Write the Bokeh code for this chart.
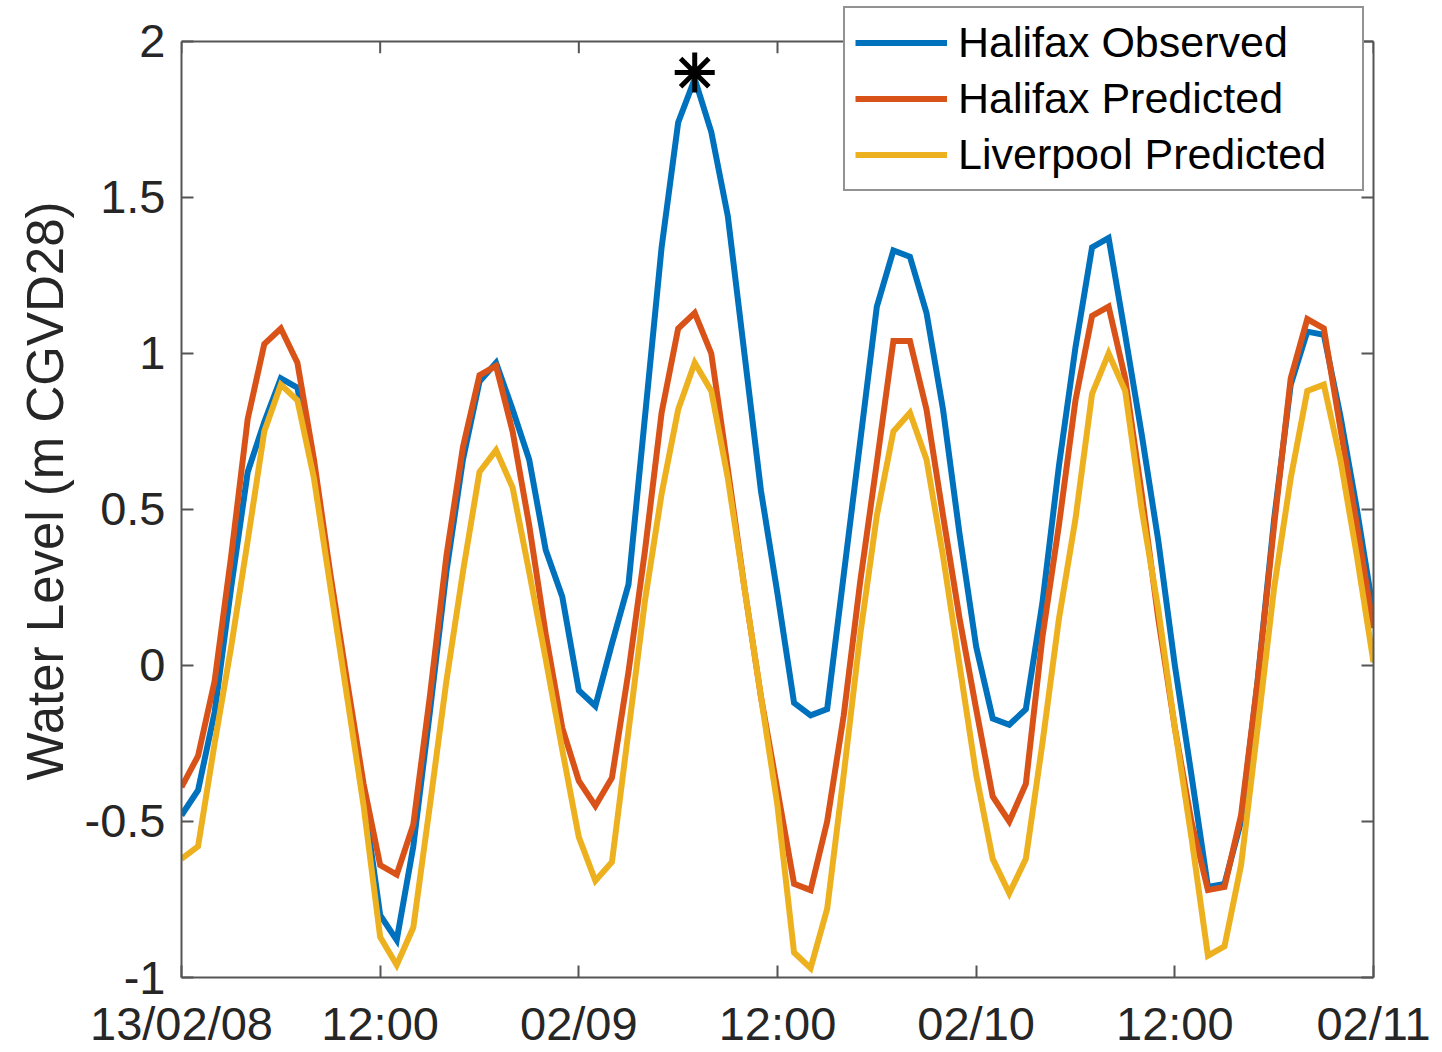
from bokeh.plotting import figure
from bokeh.models import LinearAxis, FixedTicker, Legend, LegendItem, Range1d, Span
from bokeh.embed import file_html
from bokeh.resources import INLINE

# hourly time steps from 13/02/08 00:00 to 02/11 00:00
hours = list(range(73))

halifax_observed = [
    -0.48, -0.40, -0.15, 0.25, 0.62, 0.78, 0.92, 0.89, 0.62, 0.27,
    -0.07, -0.42, -0.80, -0.88, -0.58, -0.15, 0.30, 0.66, 0.91, 0.97,
    0.82, 0.66, 0.37, 0.22, -0.08, -0.13, 0.07, 0.26, 0.80, 1.34,
    1.74, 1.88, 1.71, 1.44, 1.00, 0.56, 0.23, -0.12, -0.16, -0.14,
    0.29, 0.72, 1.15, 1.33, 1.31, 1.13, 0.82, 0.42, 0.06, -0.17,
    -0.19, -0.14, 0.20, 0.64, 1.02, 1.34, 1.37, 1.06, 0.74, 0.40,
    0.00, -0.35, -0.71, -0.70, -0.50, -0.05, 0.47, 0.90, 1.07, 1.06,
    0.80, 0.50, 0.17,
]

halifax_predicted = [
    -0.39, -0.29, -0.05, 0.35, 0.79, 1.03, 1.08, 0.97, 0.66, 0.29,
    -0.05, -0.38, -0.64, -0.67, -0.51, -0.10, 0.35, 0.70, 0.93, 0.96,
    0.75, 0.45, 0.10, -0.20, -0.37, -0.45, -0.36, -0.02, 0.37, 0.81,
    1.08, 1.13, 1.00, 0.63, 0.25, -0.10, -0.40, -0.70, -0.72, -0.50,
    -0.16, 0.27, 0.65, 1.04, 1.04, 0.82, 0.48, 0.15, -0.14, -0.42,
    -0.50, -0.38, 0.09, 0.45, 0.85, 1.12, 1.15, 0.92, 0.55, 0.15,
    -0.20, -0.50, -0.72, -0.71, -0.48, -0.05, 0.45, 0.92, 1.11, 1.08,
    0.76, 0.45, 0.12,
]

liverpool_predicted = [
    -0.62, -0.58, -0.25, 0.06, 0.40, 0.75, 0.90, 0.85, 0.60, 0.25,
    -0.10, -0.45, -0.87, -0.96, -0.84, -0.45, -0.05, 0.30, 0.62, 0.69,
    0.57, 0.30, 0.02, -0.27, -0.55, -0.69, -0.63, -0.21, 0.21, 0.55,
    0.82, 0.97, 0.88, 0.60, 0.25, -0.10, -0.45, -0.92, -0.97, -0.78,
    -0.35, 0.10, 0.48, 0.75, 0.81, 0.66, 0.35, 0.00, -0.35, -0.62,
    -0.73, -0.62, -0.25, 0.15, 0.47, 0.87, 1.00, 0.88, 0.50, 0.18,
    -0.20, -0.55, -0.93, -0.90, -0.64, -0.20, 0.25, 0.60, 0.88, 0.90,
    0.66, 0.35, 0.01,
]

peak_hour = [31]
peak_level = [1.90]

x_ticks = [0, 12, 24, 36, 48, 60, 72]
x_tick_labels = ["13/02/08", "12:00", "02/09", "12:00", "02/10", "12:00", "02/11"]
y_ticks = [-1, -0.5, 0, 0.5, 1, 1.5, 2]
y_tick_labels = ["-1", "-0.5", "0", "0.5", "1", "1.5", "2"]
y_min, y_max = -1, 2
x_min, x_max = 0, 72

series_names = ["Halifax Observed", "Halifax Predicted", "Liverpool Predicted"]
colors = ["#0072BD", "#D95319", "#EDB120"]

FONT = "Liberation Sans"
TXT = "#262626"
AX = "#555555"

# frame: x 181..1373, y 4..980 ; y=2 sits at 41px -> headroom above the box
FRAME_TOP = 4
PX_PER_UNIT = (980 - 41) / (y_max - y_min)
headroom = (41 - FRAME_TOP) / PX_PER_UNIT
tick_len = 12 / PX_PER_UNIT

p = figure(width=1442, height=1052, output_backend="svg", toolbar_location=None,
           x_range=Range1d(x_min, x_max), y_range=Range1d(y_min, y_max + headroom),
           min_border_left=181, min_border_right=69, min_border_top=FRAME_TOP,
           min_border_bottom=72, background_fill_color="white",
           border_fill_color="white", outline_line_color=None)
p.xgrid.visible = False
p.ygrid.visible = False
p.xaxis.visible = False
p.yaxis.visible = False

renderers = []
for vals, c in zip([halifax_observed, halifax_predicted, liverpool_predicted], colors):
    r = p.line(hours, vals, line_color=c, line_width=6, line_join="miter")
    renderers.append(r)

p.scatter(peak_hour, peak_level, marker="asterisk", size=40, line_color="black",
          line_width=5)

def style_axis(ax, show_labels):
    ax.axis_line_color = AX
    ax.axis_line_width = 2
    ax.major_tick_line_color = AX
    ax.major_tick_line_width = 2
    ax.major_tick_in = 12
    ax.major_tick_out = 0
    ax.minor_tick_line_color = None
    ax.major_label_text_font = FONT
    ax.major_label_text_color = TXT
    if not show_labels:
        ax.major_label_text_font_size = "1px"
        ax.major_label_text_alpha = 0
        ax.major_label_standoff = 0

bottom = LinearAxis(ticker=FixedTicker(ticks=x_ticks),
                    major_label_overrides={t: l for t, l in zip(x_ticks, x_tick_labels)})
style_axis(bottom, True)
bottom.major_label_text_font_size = "47px"
bottom.major_label_standoff = 19
p.add_layout(bottom, "below")

left = LinearAxis(ticker=FixedTicker(ticks=y_ticks), bounds=(y_min, y_max),
                  major_label_overrides={t: l for t, l in zip(y_ticks, y_tick_labels)})
style_axis(left, True)
left.major_label_text_font_size = "47px"
left.major_label_standoff = 16
left.axis_label = "Water Level (m CGVD28)"
left.axis_label_text_font = FONT
left.axis_label_text_font_size = "51px"
left.axis_label_text_font_style = "normal"
left.axis_label_text_color = TXT
left.axis_label_standoff = 8
p.add_layout(left, "left")

right = LinearAxis(ticker=FixedTicker(ticks=y_ticks), bounds=(y_min, y_max))
style_axis(right, False)
p.add_layout(right, "right")

# top edge of the axes box with inward ticks
p.add_layout(Span(location=y_max, dimension="width", line_color=AX, line_width=2))
p.segment(x0=x_ticks, y0=[y_max] * len(x_ticks), x1=x_ticks,
          y1=[y_max - tick_len] * len(x_ticks), line_color=AX, line_width=2)

legend = Legend(items=[LegendItem(label=n, renderers=[r]) for n, r in zip(series_names, renderers)],
                location=(662, 786))
legend.label_text_font = FONT
legend.label_text_font_size = "43px"
legend.label_text_color = "black"
legend.border_line_color = "#262626"
legend.border_line_width = 2
legend.background_fill_color = "white"
legend.background_fill_alpha = 1
legend.padding = 10
legend.spacing = 7
legend.margin = 0
legend.glyph_width = 92
legend.glyph_height = 49
legend.label_height = 49
legend.label_standoff = 11
legend.label_width = 394
p.add_layout(legend, "center")

open("out.html", "w").write(file_html(p, INLINE))
